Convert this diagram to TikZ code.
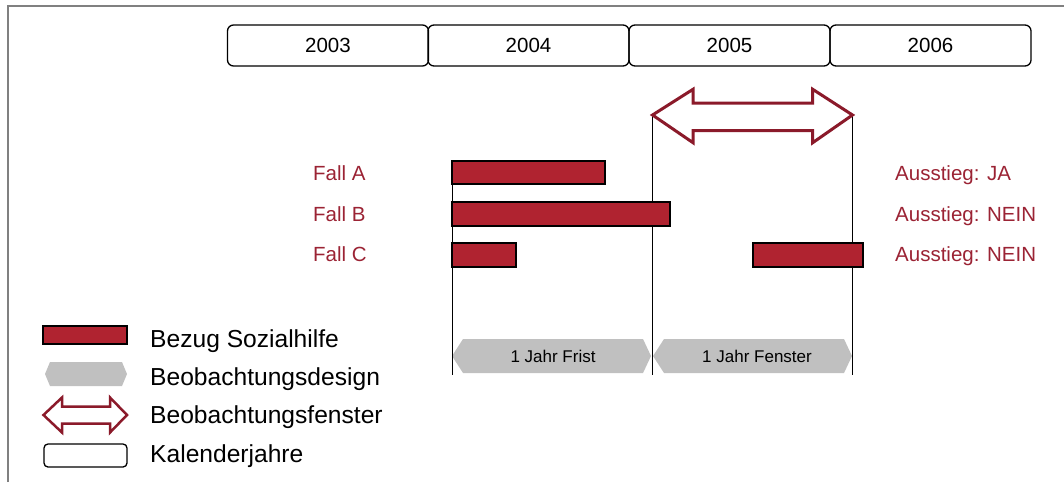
\documentclass[tikz,border=0pt]{standalone}
\usepackage{fontspec}
\setmainfont{Liberation Sans}
\definecolor{barred}{RGB}{176,35,48}
\definecolor{arrred}{RGB}{139,26,42}
\definecolor{txtred}{RGB}{155,35,52}
\definecolor{hexgrey}{RGB}{192,192,192}
\definecolor{framegrey}{RGB}{128,128,128}
\begin{document}
\begin{tikzpicture}[x=1pt,y=-1pt,
  yearbox/.style={draw, line width=1.3pt, rounded corners=6pt, minimum width=201pt, minimum height=41pt, inner sep=0pt, font=\fontsize{20.5}{24}\selectfont},
  bar/.style={draw=black, line width=1.5pt, fill=barred},
  guide/.style={line width=0.9pt, black},
  casetxt/.style={anchor=base west, text=txtred, font=\fontsize{20.5}{24}\selectfont, inner sep=0pt},
  hexfill/.style={fill=hexgrey},
  hextxt/.style={font=\fontsize{17}{20}\selectfont, inner sep=0pt},
  legtxt/.style={anchor=base west, inner sep=0pt, font=\fontsize{24.6}{28}\selectfont},
  winarrow/.style={draw=arrred, line width=3pt, fill=white, line join=miter},
  legarrow/.style={draw=arrred, line width=2.5pt, fill=white, line join=miter}]

\useasboundingbox (0,0) rectangle (1064,482);
\draw[framegrey, line width=2pt] (8,482) -- (8,6) -- (1064,6);

% calendar years
\node[yearbox] (y2003) at (328,45.5) {2003};
\node[yearbox] (y2004) at (528.5,45.5) {2004};
\node[yearbox] (y2005) at (729.5,45.5) {2005};
\node[yearbox] (y2006) at (930.5,45.5) {2006};

% observation design
\fill[hexfill] (452,356) -- (463,339) -- (643,339) -- (651,356) -- (643,373) -- (463,373) -- cycle;
\fill[hexfill] (653,356) -- (664,339) -- (844,339) -- (852,356) -- (844,373) -- (664,373) -- cycle;
\node[hextxt] (frist) at (553,356) {1 Jahr Frist};
\node[hextxt] (fenster) at (757,356) {1 Jahr Fenster};

% guide lines
\coordinate (gAt) at (452,161);
\coordinate (gAb) at (452,375);
\coordinate (gBt) at (652.5,115);
\coordinate (gBb) at (652.5,375);
\coordinate (gCt) at (852.5,115);
\coordinate (gCb) at (852.5,375);
\draw[guide] (gAt) -- (gAb);
\draw[guide] (gBt) -- (gBb);
\draw[guide] (gCt) -- (gCb);

% bars
\draw[bar] (452,161) rectangle (605,184);
\draw[bar] (452,202) rectangle (670,226);
\draw[bar] (452,243) rectangle (516,267);
\draw[bar] (753,243) rectangle (863,267);

% observation window arrow
\draw[winarrow] (652.5,115) -- (693,89.3) -- (693,103) -- (812.7,103) -- (812.7,89.3) -- (852.5,115)
  -- (812.7,142.7) -- (812.7,130.7) -- (693,130.7) -- (693,142.7) -- cycle;

% case labels
\node[casetxt] (fa) at (313,180) {Fall A};
\node[casetxt] (fb) at (313,221.5) {Fall B};
\node[casetxt] (fc) at (313,261.5) {Fall C};
\node[casetxt] (aa) at (895,180) {Ausstieg: JA};
\node[casetxt] (ab) at (895,221.5) {Ausstieg: NEIN};
\node[casetxt] (ac) at (895,261.5) {Ausstieg: NEIN};

% legend
\draw[bar] (43,326) rectangle (127,344);
\fill[hexfill] (45,374) -- (50,362) -- (122,362) -- (127,374) -- (122,386) -- (50,386) -- cycle;
\draw[legarrow] (43.5,415) -- (62,397.5) -- (62,406.5) -- (110,406.5) -- (110,397.5) -- (127,415)
  -- (110,432.5) -- (110,423.5) -- (62,423.5) -- (62,432.5) -- cycle;
\draw[line width=1.3pt, rounded corners=4pt] (44,444) rectangle (127,467);
\node[legtxt] (l1) at (150,347) {Bezug Sozialhilfe};
\node[legtxt] (l2) at (150,385) {Beobachtungsdesign};
\node[legtxt] (l3) at (150,423) {Beobachtungsfenster};
\node[legtxt] (l4) at (150,462) {Kalenderjahre};
\end{tikzpicture}
\end{document}
